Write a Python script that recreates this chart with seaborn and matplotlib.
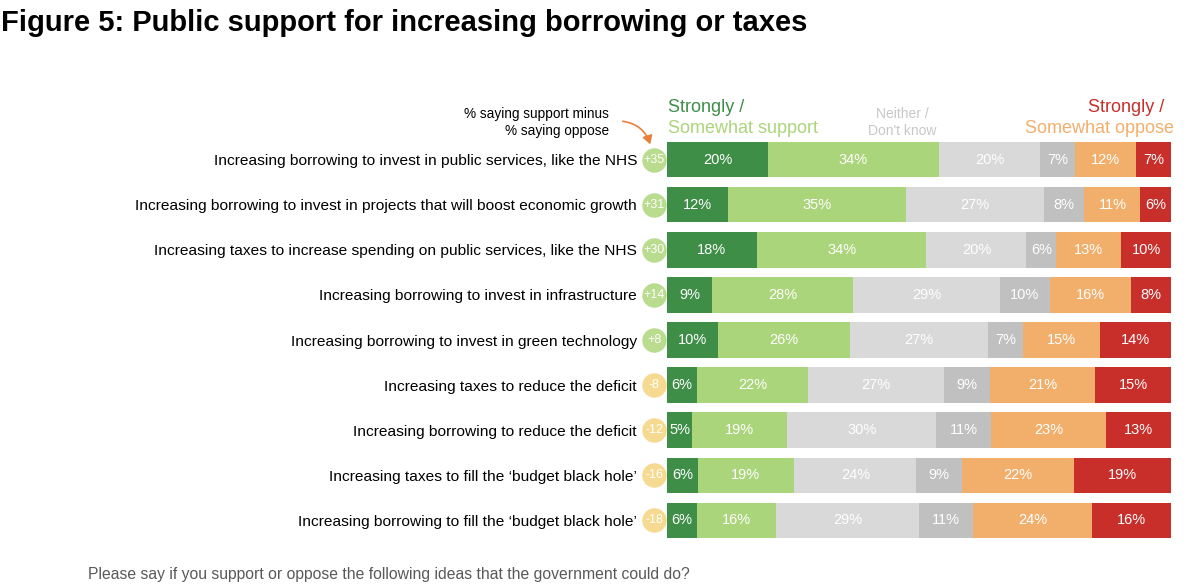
import numpy as np
import pandas as pd
import matplotlib
matplotlib.use("Agg")
import matplotlib.pyplot as plt
import seaborn as sns

categories = [
    "Increasing borrowing to invest in public services, like the NHS",
    "Increasing borrowing to invest in projects that will boost economic growth",
    "Increasing taxes to increase spending on public services, like the NHS",
    "Increasing borrowing to invest in infrastructure",
    "Increasing borrowing to invest in green technology",
    "Increasing taxes to reduce the deficit",
    "Increasing borrowing to reduce the deficit",
    "Increasing taxes to fill the \u2018budget black hole\u2019",
    "Increasing borrowing to fill the \u2018budget black hole\u2019",
]
strongly_support = [20, 12, 18, 9, 10, 6, 5, 6, 6]
somewhat_support = [34, 35, 34, 28, 26, 22, 19, 19, 16]
neither = [20, 27, 20, 29, 27, 27, 30, 24, 29]
dont_know = [7, 8, 6, 10, 7, 9, 11, 9, 11]
somewhat_oppose = [12, 11, 13, 16, 15, 21, 23, 22, 24]
strongly_oppose = [7, 6, 10, 8, 14, 15, 13, 19, 16]
net = ["+35", "+31", "+30", "+14", "+8", "-8", "-12", "-16", "-18"]

series = [strongly_support, somewhat_support, neither, dont_know, somewhat_oppose, strongly_oppose]
colors = ["#3e8e48", "#abd57b", "#d9d9d9", "#c0c0c0", "#f2af6c", "#c82f2b"]

sns.set_theme(style="white")
plt.rcParams["font.family"] = ["Liberation Sans", "DejaVu Sans"]
plt.rcParams["text.color"] = "black"

W, H = 1200, 584
fig = plt.figure(figsize=(W / 100, H / 100), dpi=100)
ax_top, ax_bot = 137.4, 542.6
ax = fig.add_axes([667 / W, 1 - ax_bot / H, 504 / W, (ax_bot - ax_top) / H])

vals = np.array(series, dtype=float)  # (6, 9)
totals = vals.sum(axis=0)
shares = vals / totals * 100
cum = np.cumsum(shares, axis=0)

# draw longest cumulative first so shorter ones overlap
for k in range(len(series) - 1, -1, -1):
    df = pd.DataFrame({"cat": categories, "val": cum[k]})
    sns.barplot(data=df, x="val", y="cat", orient="h", color=colors[k],
                saturation=1, width=0.78, ax=ax, edgecolor="none", linewidth=0)

# percent labels
for k in range(len(series)):
    for i in range(len(categories)):
        left = cum[k][i] - shares[k][i]
        ax.text(left + shares[k][i] / 2, i, f"{series[k][i]}%", ha="center", va="center",
                color="white", fontsize=10.5)

ax.set_xlim(0, 100)
ax.set_ylim(len(categories) - 0.5, -0.5)
ax.set_xlabel("")
ax.set_ylabel("")
ax.set_xticks([])
for s in ax.spines.values():
    s.set_visible(False)
ax.tick_params(axis="y", length=0, pad=21.6, labelsize=11.15, labelcolor="black")

# net circles
xc = (654 - 667) / 504 * 100
for i, n in enumerate(net):
    c = "#b9dc8e" if n.startswith("+") else "#f6da92"
    ax.scatter([xc], [i], s=310, color=c, clip_on=False, zorder=1, linewidths=0)
    ax.text(xc, i, n, ha="center", va="center", color="white", fontsize=9, zorder=6, clip_on=False)

# title
fig.text(1 / W, 1 - 23 / H, "Figure 5: Public support for increasing borrowing or taxes",
         fontsize=21, fontweight="bold", ha="left", va="center", color="black",
         family=["Liberation Sans Narrow", "Liberation Sans", "DejaVu Sans"])

# header legend
fig.text(668 / W, 1 - 107 / H, "Strongly /", color="#3e8e48", fontsize=13, ha="left", va="center")
fig.text(668 / W, 1 - 129 / H, "Somewhat support", color="#abd57b", fontsize=13, ha="left", va="center")
fig.text(902 / W, 1 - 114 / H, "Neither /", color="#c8c8c8", fontsize=10, ha="center", va="center")
fig.text(902 / W, 1 - 131 / H, "Don't know", color="#c8c8c8", fontsize=10, ha="center", va="center")
fig.text(1164 / W, 1 - 107 / H, "Strongly /", color="#c82f2b", fontsize=13, ha="right", va="center")
fig.text(1174 / W, 1 - 129 / H, "Somewhat oppose", color="#f2af6c", fontsize=13, ha="right", va="center")

# annotation
fig.text(609 / W, 1 - 114 / H, "% saying support minus", fontsize=9.8, ha="right", va="center")
fig.text(609 / W, 1 - 131 / H, "% saying oppose", fontsize=9.8, ha="right", va="center")
fig.add_artist(matplotlib.patches.FancyArrowPatch(
    (620 / W, 1 - 121 / H), (651 / W, 1 - 147 / H), transform=fig.transFigure,
    connectionstyle="arc3,rad=-0.35", arrowstyle="-|>,head_length=5,head_width=3",
    color="#e8803a", lw=1.2))

# footer
fig.text(88 / W, 1 - 575 / H, "Please say if you support or oppose the following ideas that the government could do?",
         fontsize=11.3, color="#595959", ha="left", va="center")

fig.savefig("out.png", dpi=100)
